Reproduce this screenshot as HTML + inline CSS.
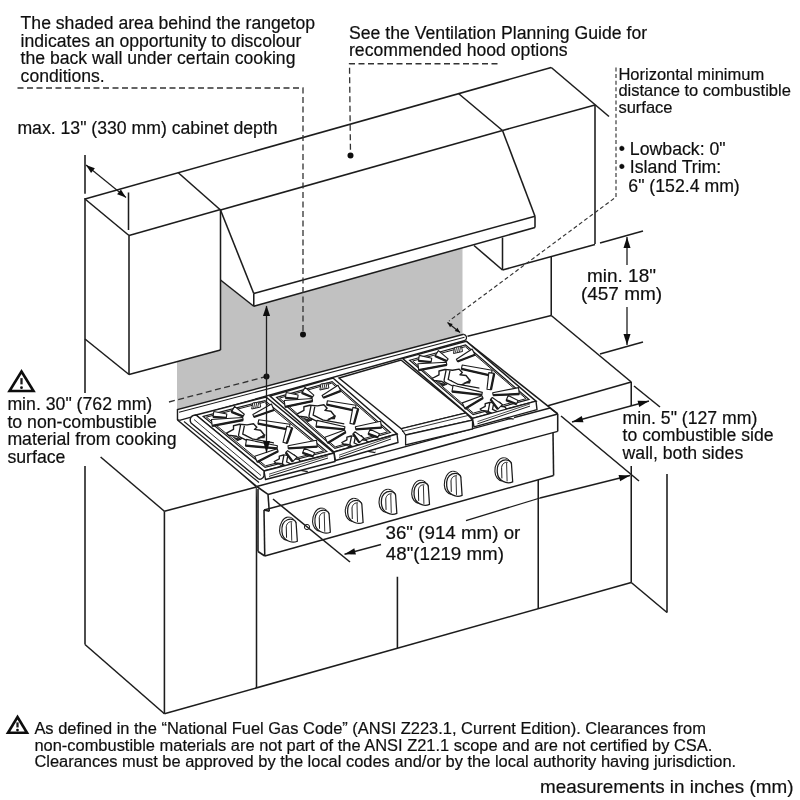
<!DOCTYPE html>
<html><head><meta charset="utf-8"><style>
html,body{margin:0;padding:0;background:#fff;}
svg{display:block;will-change:transform;}
</style></head><body>
<svg width="800" height="800" viewBox="0 0 800 800">
<defs><filter id="soft" x="0" y="0" width="800" height="800" filterUnits="userSpaceOnUse"><feGaussianBlur stdDeviation="0.35"/></filter></defs>
<rect width="800" height="800" fill="#fff"/>
<g filter="url(#soft)">
<g stroke="#1c1c1c" fill="none" stroke-linecap="butt">
<polygon points="177,362 220.5,349.5 220.5,280 253.75,306.25 462.5,248 462.5,336 177,410.5" fill="#c1c1c1" stroke="none"/>
<line x1="85" y1="199" x2="551.25" y2="67.5" stroke-width="1.55" />
<line x1="551.25" y1="67.5" x2="609" y2="116.5" stroke-width="1.55" />
<line x1="85" y1="199" x2="129" y2="235.5" stroke-width="1.55" />
<line x1="129" y1="235.5" x2="220.5" y2="209.5" stroke-width="1.55" />
<line x1="178" y1="172.5" x2="220.5" y2="210" stroke-width="1.55" />
<line x1="85" y1="198" x2="85" y2="393" stroke-width="1.55" />
<line x1="85" y1="339" x2="129" y2="374.5" stroke-width="1.55" />
<line x1="129" y1="235.5" x2="129" y2="374.5" stroke-width="1.55" />
<line x1="129" y1="374.5" x2="220.5" y2="350" stroke-width="1.55" />
<line x1="220.5" y1="210" x2="220.5" y2="350" stroke-width="1.55" />
<line x1="220.5" y1="210" x2="502.5" y2="130.5" stroke-width="1.55" />
<line x1="458.75" y1="93.75" x2="502.5" y2="130.5" stroke-width="1.55" />
<line x1="220.5" y1="210" x2="253.75" y2="293.5" stroke-width="1.55" />
<line x1="502.5" y1="130.5" x2="535" y2="216.25" stroke-width="1.55" />
<line x1="253.75" y1="293.5" x2="535" y2="216.25" stroke-width="1.55" />
<line x1="253.75" y1="306.25" x2="535" y2="227.5" stroke-width="1.55" />
<line x1="253.75" y1="293.5" x2="253.75" y2="306.25" stroke-width="1.55" />
<line x1="535" y1="216.25" x2="535" y2="227.5" stroke-width="1.55" />
<line x1="220.5" y1="280" x2="253.75" y2="306.25" stroke-width="1.55" />
<line x1="502.5" y1="130.5" x2="595" y2="105" stroke-width="1.55" />
<line x1="595" y1="105" x2="595" y2="244" stroke-width="1.55" />
<line x1="502.5" y1="270" x2="595" y2="244.5" stroke-width="1.55" />
<line x1="502.5" y1="237.5" x2="502.5" y2="270" stroke-width="1.55" />
<line x1="474" y1="245.5" x2="502.5" y2="270" stroke-width="1.55" />
<line x1="551.25" y1="256" x2="551.25" y2="315.5" stroke-width="1.55" />
<line x1="467.5" y1="336.25" x2="551.25" y2="315.5" stroke-width="1.55" />
<line x1="551.25" y1="315.5" x2="631.25" y2="382" stroke-width="1.55" />
<line x1="631.25" y1="382" x2="547" y2="406" stroke-width="1.55" />
<line x1="631.25" y1="382" x2="631.25" y2="406" stroke-width="1.55" />
<line x1="631.25" y1="466" x2="631.25" y2="582.5" stroke-width="1.55" />
<line x1="667" y1="474" x2="667" y2="612.5" stroke-width="1.55" />
<line x1="631.25" y1="582.5" x2="667" y2="612.5" stroke-width="1.55" />
<line x1="85" y1="466" x2="85" y2="644.5" stroke-width="1.55" />
<line x1="100.6" y1="457" x2="164.4" y2="511.25" stroke-width="1.55" />
<line x1="85" y1="644.5" x2="164.4" y2="713.75" stroke-width="1.55" />
<line x1="164.4" y1="511.25" x2="164.4" y2="713.75" stroke-width="1.55" />
<line x1="164.4" y1="511.25" x2="256.5" y2="487" stroke-width="1.55" />
<line x1="164.4" y1="713.75" x2="631.25" y2="582.5" stroke-width="1.55" />
<line x1="256.5" y1="487" x2="256.5" y2="688" stroke-width="1.55" />
<line x1="397.4" y1="576.75" x2="397.4" y2="648" stroke-width="1.55" />
<line x1="538.25" y1="479" x2="538.25" y2="609" stroke-width="1.55" />
<line x1="240" y1="472" x2="256.5" y2="487" stroke-width="1.55" />
<polyline points="17.5,88 303,88 303,334.5" fill="none" stroke-width="1.3" stroke-dasharray="6 3.5" stroke="#333"/>
<circle cx="303" cy="334.5" r="3.0" fill="#111" stroke="none"/>
<polyline points="497.5,63.75 349.5,63.75 350.5,155.5" fill="none" stroke-width="1.3" stroke-dasharray="6 3.5" stroke="#333"/>
<circle cx="350.5" cy="155.5" r="3.0" fill="#111" stroke="none"/>
<polyline points="616,67.5 616,197 449,321" fill="none" stroke-width="1.15" stroke-dasharray="4 2.6" stroke="#333"/>
<line x1="85" y1="155" x2="85" y2="193.75" stroke-width="1.55" />
<line x1="128.5" y1="192.5" x2="128.5" y2="230" stroke-width="1.55" />
<line x1="86" y1="165" x2="126" y2="197.5" stroke-width="1.2" />
<polygon points="86,165 94.88,168.35 91.09,173.00" fill="#111" stroke="none"/>
<polygon points="126,197.5 117.12,194.15 120.91,189.50" fill="#111" stroke="none"/>
<line x1="600" y1="243" x2="643" y2="231" stroke-width="1.55" />
<line x1="600" y1="354" x2="643" y2="342" stroke-width="1.55" />
<line x1="627" y1="237" x2="627" y2="265" stroke-width="1.3" />
<line x1="627" y1="307" x2="627" y2="345" stroke-width="1.3" />
<polygon points="627,237 630.50,248.00 623.50,248.00" fill="#111" stroke="none"/>
<polygon points="627,345 623.50,334.00 630.50,334.00" fill="#111" stroke="none"/>
<line x1="447.5" y1="322.5" x2="460" y2="332.5" stroke-width="1.2" />
<polygon points="447.5,322.5 452.78,323.91 450.03,327.34" fill="#111" stroke="none"/>
<polygon points="460,332.5 454.72,331.09 457.47,327.66" fill="#111" stroke="none"/>
<line x1="634" y1="386" x2="660" y2="407" stroke-width="1.55" />
<line x1="561" y1="416" x2="639" y2="481" stroke-width="1.55" />
<line x1="572" y1="422" x2="649" y2="401" stroke-width="1.3" />
<polygon points="572,422 581.77,416.02 583.45,422.19" fill="#111" stroke="none"/>
<polygon points="649,401 639.23,406.98 637.55,400.81" fill="#111" stroke="none"/>
<line x1="540" y1="498" x2="630" y2="475.5" stroke-width="1.3" />
<polygon points="630,475.5 620.10,481.27 618.55,475.06" fill="#111" stroke="none"/>
<line x1="344.5" y1="554.25" x2="381" y2="544.5" stroke-width="1.3" />
<polygon points="344.5,554.25 354.30,548.32 355.95,554.50" fill="#111" stroke="none"/>
<line x1="466" y1="520.6" x2="540" y2="498" stroke-width="1.3" />
<polygon points="177.5,409.6 463.75,334.3 557.7,413.9 557.7,431.4 553,432.7 553.6,475.4 264.75,556 258,551.5 256.75,486.5 177.5,420" fill="#fff" stroke="none"/>
<polyline points="177.5,420 177.5,409.6 463.75,334.3" fill="none" stroke-width="1.4" />
<line x1="179" y1="412.3" x2="464.5" y2="337.2" stroke-width="1.1" />
<line x1="179.5" y1="420.3" x2="465" y2="340.5" stroke-width="1.3" />
<line x1="177.5" y1="420" x2="179.5" y2="420.3" stroke-width="1.55" />
<path d="M463.75,334.3 C466.5,334.8 467.8,338.5 465,340.5" fill="none" stroke-width="1.3"/>
<line x1="177.5" y1="420" x2="256.75" y2="486.5" stroke-width="1.55" />
<line x1="256.75" y1="486.5" x2="550" y2="408" stroke-width="1.3" />
<line x1="256.75" y1="486.5" x2="268" y2="494.4" stroke-width="1.55" />
<line x1="268" y1="494.4" x2="557.7" y2="413.9" stroke-width="1.55" />
<line x1="550" y1="408" x2="557.7" y2="413.9" stroke-width="1.55" />
<line x1="466" y1="341" x2="557.7" y2="413.9" stroke-width="1.55" />
<line x1="557.7" y1="413.9" x2="557.7" y2="431.4" stroke-width="1.55" />
<line x1="268" y1="494.4" x2="269.25" y2="511.25" stroke-width="1.55" />
<line x1="264" y1="510" x2="269.25" y2="511.25" stroke-width="1.55" />
<line x1="258" y1="489" x2="258" y2="551.5" stroke-width="1.55" />
<line x1="258" y1="551.5" x2="264.75" y2="556" stroke-width="1.55" />
<line x1="264" y1="510" x2="264.75" y2="556" stroke-width="1.55" />
<line x1="264" y1="510" x2="557.7" y2="431.4" stroke-width="1.3" />
<line x1="264.75" y1="556" x2="553.6" y2="475.4" stroke-width="1.55" />
<line x1="553" y1="432.7" x2="553.6" y2="475.4" stroke-width="1.55" />
<polygon points="196,415 266,397 334,453 264,471" fill="#fff" stroke-width="1.5" />
<polygon points="203.26,416.44 264.86,400.59999999999997 326.74,451.56 265.14,467.40000000000003" fill="none" stroke-width="1.2" />
<polygon points="206.36999999999998,417.11 264.47,402.16999999999996 323.63,450.89 265.53,465.83000000000004" fill="none" stroke-width="1.0" />
<polygon points="226.5,433.2 233.5,429.4 233.5,425.7 239.5,424.2 247.0,424.9 253.5,423.8 256.8,427.2 254.5,429.4 260.5,430.2 264.5,435.2 257.5,439.2 251.5,440.7 245.5,435.4 240.5,439.2 236.5,436.2 228.5,435.2" fill="#fff" stroke-width="1.4" stroke-linejoin="round"/>
<polyline points="242.5,425.2 240.5,435.2 251.5,440.7 273.5,444.7" fill="none" stroke-width="5.2" stroke-linejoin="round"/>
<polyline points="242.5,425.2 240.5,435.2 251.5,440.7 273.5,444.7" fill="none" stroke="#fff" stroke-width="2.6" stroke-linejoin="round"/>
<path d="M231.5,436.2 l6.0,5.0 l4.0,-2.0 z M256.5,438.2 l8.0,0.0 l1.0,-4.0 z" fill="#222" stroke="none"/>
<polygon points="274.3,461.5 279.3,458.8 279.3,456.1 283.6,455.0 289.0,455.6 293.7,454.8 296.1,457.2 294.4,458.8 298.8,459.4 301.6,463.0 296.6,465.8 292.3,466.9 288.0,463.1 284.4,465.8 281.5,463.7 275.7,463.0" fill="#fff" stroke-width="1.4" stroke-linejoin="round"/>
<polyline points="285.8,455.8 284.4,463.0 292.3,466.9 308.1,469.8" fill="none" stroke-width="5.2" stroke-linejoin="round"/>
<polyline points="285.8,455.8 284.4,463.0 292.3,466.9 308.1,469.8" fill="none" stroke="#fff" stroke-width="2.6" stroke-linejoin="round"/>
<path d="M277.9,463.7 l4.3,3.6 l2.9,-1.4 z M295.9,465.1 l5.8,0.0 l0.7,-2.9 z" fill="#222" stroke="none"/>
<polygon points="213.0,416.9 226.3,417.9 226.8,414.0 213.8,411.5" fill="#fff" stroke-width="1.15" stroke-linejoin="round"/>
<line x1="213.0" y1="416.9" x2="226.3" y2="417.9" stroke-width="2.3"/>
<polygon points="231.4,411.9 243.0,416.4 244.3,414.2 234.6,406.4" fill="#fff" stroke-width="1.15" stroke-linejoin="round"/>
<line x1="231.4" y1="411.9" x2="243.0" y2="416.4" stroke-width="2.3"/>
<polygon points="271.4,404.1 252.9,414.6 253.9,417.0 274.0,410.0" fill="#fff" stroke-width="1.15" stroke-linejoin="round"/>
<line x1="274.0" y1="410.0" x2="253.9" y2="417.0" stroke-width="2.3"/>
<polygon points="212.2,425.9 243.1,420.0 242.8,417.5 211.4,419.5" fill="#fff" stroke-width="1.15" stroke-linejoin="round"/>
<line x1="212.2" y1="425.9" x2="243.1" y2="420.0" stroke-width="2.3"/>
<polygon points="316.5,440.3 288.0,445.8 288.3,448.4 317.3,446.6" fill="#fff" stroke-width="1.15" stroke-linejoin="round"/>
<line x1="317.3" y1="446.6" x2="288.3" y2="448.4" stroke-width="2.3"/>
<polygon points="257.2,462.0 278.1,451.2 277.1,448.8 254.7,456.2" fill="#fff" stroke-width="1.15" stroke-linejoin="round"/>
<line x1="257.2" y1="462.0" x2="278.1" y2="451.2" stroke-width="2.3"/>
<polygon points="297.1,457.1 287.6,450.7 285.8,452.5 292.7,461.7" fill="#fff" stroke-width="1.15" stroke-linejoin="round"/>
<line x1="292.7" y1="461.7" x2="285.8" y2="452.5" stroke-width="2.3"/>
<polygon points="245.5,445.7 277.1,448.3 277.4,445.8 246.5,439.4" fill="#fff" stroke-width="1.15" stroke-linejoin="round"/>
<line x1="245.5" y1="445.7" x2="277.1" y2="448.3" stroke-width="2.3"/>
<polygon points="302.6,452.9 313.1,456.4 314.5,452.7 304.4,448.2" fill="#fff" stroke-width="1.15" stroke-linejoin="round"/>
<line x1="302.6" y1="452.9" x2="313.1" y2="456.4" stroke-width="2.3"/>
<polygon points="258.0,423.7 289.1,429.7 290.0,424.2 258.7,419.8" fill="#fff" stroke-width="1.15" stroke-linejoin="round"/>
<line x1="258.0" y1="423.7" x2="289.1" y2="429.7" stroke-width="2.3"/>
<polygon points="286.8,443.4 292.2,427.7 286.9,426.2 283.0,442.3" fill="#fff" stroke-width="1.15" stroke-linejoin="round"/>
<line x1="286.8" y1="443.4" x2="292.2" y2="427.7" stroke-width="2.3"/>
<polygon points="251.7,409.0 260.7,407.0 259.7,402.0 252.7,403.0" fill="#fff" stroke-width="1.0"/>
<path d="M253.7,408.0 l1,-5 M255.7,408.0 l1,-5 M257.7,407.5 l1,-5" stroke-width="0.9"/>
<path d="M264.0,471.0 L334.0,453.0 L335.0,461.5 L265.5,479.5 Z" fill="#fff" stroke-width="1.4" stroke-linejoin="round"/>
<line x1="269.0" y1="474.2" x2="328.0" y2="455.8" stroke-width="0.8"/>
<line x1="269.0" y1="476.4" x2="328.0" y2="458.0" stroke-width="1.0"/>
<path d="M196,415 C191,415 189,419 191,423 L258,478.5 C260,480 263,479 264,476 L264,471 Z" fill="#fff" stroke-width="1.4" stroke-linejoin="round"/>
<line x1="194" y1="419.5" x2="261" y2="475.5" stroke-width="0.9" />
<line x1="184" y1="421.5" x2="259" y2="482.5" stroke-width="1.1" />
<polygon points="270,396 333,378 397,434 334,452" fill="#fff" stroke-width="1.5" />
<polygon points="276.65999999999997,397.44 332.1,381.59999999999997 390.34000000000003,432.56 334.9,448.40000000000003" fill="none" stroke-width="1.2" />
<polygon points="279.51500000000004,398.11 331.805,383.16999999999996 387.485,431.89 335.19500000000005,446.83000000000004" fill="none" stroke-width="1.0" />
<polygon points="296.9,414.2 303.9,410.4 303.9,406.7 309.9,405.2 317.4,405.9 323.9,404.8 327.1,408.2 324.9,410.4 330.9,411.2 334.9,416.2 327.9,420.2 321.9,421.7 315.9,416.4 310.9,420.2 306.9,417.2 298.9,416.2" fill="#fff" stroke-width="1.4" stroke-linejoin="round"/>
<polyline points="312.9,406.2 310.9,416.2 321.9,421.7 343.9,425.7" fill="none" stroke-width="5.2" stroke-linejoin="round"/>
<polyline points="312.9,406.2 310.9,416.2 321.9,421.7 343.9,425.7" fill="none" stroke="#fff" stroke-width="2.6" stroke-linejoin="round"/>
<path d="M301.9,417.2 l6.0,5.0 l4.0,-2.0 z M326.9,419.2 l8.0,0.0 l1.0,-4.0 z" fill="#222" stroke="none"/>
<polygon points="341.9,442.5 346.9,439.8 346.9,437.1 351.2,436.0 356.6,436.6 361.3,435.8 363.6,438.2 362.0,439.8 366.3,440.4 369.2,444.0 364.2,446.8 359.9,447.9 355.5,444.1 351.9,446.8 349.1,444.7 343.3,444.0" fill="#fff" stroke-width="1.4" stroke-linejoin="round"/>
<polyline points="353.4,436.8 351.9,444.0 359.9,447.9 375.7,450.8" fill="none" stroke-width="5.2" stroke-linejoin="round"/>
<polyline points="353.4,436.8 351.9,444.0 359.9,447.9 375.7,450.8" fill="none" stroke="#fff" stroke-width="2.6" stroke-linejoin="round"/>
<path d="M345.5,444.7 l4.3,3.6 l2.9,-1.4 z M363.5,446.1 l5.8,0.0 l0.7,-2.9 z" fill="#222" stroke="none"/>
<polygon points="285.4,397.9 297.6,398.9 298.1,395.0 286.2,392.5" fill="#fff" stroke-width="1.15" stroke-linejoin="round"/>
<line x1="285.4" y1="397.9" x2="297.6" y2="398.9" stroke-width="2.3"/>
<polygon points="301.8,392.9 312.4,397.3 313.8,395.1 305.1,387.4" fill="#fff" stroke-width="1.15" stroke-linejoin="round"/>
<line x1="301.8" y1="392.9" x2="312.4" y2="397.3" stroke-width="2.3"/>
<polygon points="338.0,385.2 322.1,395.4 323.3,397.7 340.9,390.9" fill="#fff" stroke-width="1.15" stroke-linejoin="round"/>
<line x1="340.9" y1="390.9" x2="323.3" y2="397.7" stroke-width="2.3"/>
<polygon points="285.1,406.9 312.5,401.1 312.2,398.5 284.2,400.5" fill="#fff" stroke-width="1.15" stroke-linejoin="round"/>
<line x1="285.1" y1="406.9" x2="312.5" y2="401.1" stroke-width="2.3"/>
<polygon points="380.6,421.3 355.4,426.8 355.8,429.3 381.5,427.6" fill="#fff" stroke-width="1.15" stroke-linejoin="round"/>
<line x1="381.5" y1="427.6" x2="355.8" y2="429.3" stroke-width="2.3"/>
<polygon points="327.6,443.0 345.7,432.3 344.6,430.0 324.9,437.2" fill="#fff" stroke-width="1.15" stroke-linejoin="round"/>
<line x1="327.6" y1="443.0" x2="345.7" y2="432.3" stroke-width="2.3"/>
<polygon points="363.9,438.1 354.9,431.8 353.1,433.6 359.4,442.6" fill="#fff" stroke-width="1.15" stroke-linejoin="round"/>
<line x1="359.4" y1="442.6" x2="353.1" y2="433.6" stroke-width="2.3"/>
<polygon points="316.0,426.7 344.5,429.3 344.9,426.7 317.0,420.4" fill="#fff" stroke-width="1.15" stroke-linejoin="round"/>
<line x1="316.0" y1="426.7" x2="344.5" y2="429.3" stroke-width="2.3"/>
<polygon points="368.2,433.9 377.9,437.4 379.4,433.7 370.1,429.3" fill="#fff" stroke-width="1.15" stroke-linejoin="round"/>
<line x1="368.2" y1="433.9" x2="377.9" y2="437.4" stroke-width="2.3"/>
<polygon points="326.7,404.7 355.0,410.7 356.0,405.3 327.4,400.8" fill="#fff" stroke-width="1.15" stroke-linejoin="round"/>
<line x1="326.7" y1="404.7" x2="355.0" y2="410.7" stroke-width="2.3"/>
<polygon points="353.9,424.3 358.2,408.6 352.9,407.4 350.0,423.4" fill="#fff" stroke-width="1.15" stroke-linejoin="round"/>
<line x1="353.9" y1="424.3" x2="358.2" y2="408.6" stroke-width="2.3"/>
<polygon points="319.9,390.0 328.9,388.0 327.9,383.0 320.9,384.0" fill="#fff" stroke-width="1.0"/>
<path d="M321.9,389.0 l1,-5 M323.9,389.0 l1,-5 M325.9,388.5 l1,-5" stroke-width="0.9"/>
<path d="M334.0,452.0 L397.0,434.0 L398.0,442.5 L335.5,460.5 Z" fill="#fff" stroke-width="1.4" stroke-linejoin="round"/>
<line x1="339.0" y1="455.2" x2="391.0" y2="436.8" stroke-width="0.8"/>
<line x1="339.0" y1="457.4" x2="391.0" y2="439.0" stroke-width="1.0"/>
<polygon points="339,378 401,360 466,413 401.25,428.75" fill="#fff" stroke-width="1.4" />
<polygon points="401.25,428.75 466,413 472.5,420 405.6,435" fill="#fff" stroke-width="1.2" />
<line x1="402" y1="431.5" x2="468" y2="415.5" stroke-width="0.9" />
<polygon points="405.6,435 472.5,420 472.5,429 405.6,445" fill="#fff" stroke-width="1.3" />
<polygon points="402.7,358.6 466.2,341.3 536.0,401.09999999999997 472.5,418.4" fill="#fff" stroke-width="1.5" />
<polygon points="409.651,360.253 465.531,345.029 529.049,399.447 473.169,414.67099999999994" fill="none" stroke-width="1.2" />
<polygon points="412.63449999999995,361.0165 465.3395,346.6575 526.0655,398.6835 473.3605,413.04249999999996" fill="none" stroke-width="1.0" />
<polygon points="432.0,378.5 439.0,374.8 439.0,371.0 445.0,369.5 452.5,370.3 459.0,369.1 462.3,372.5 460.0,374.8 466.0,375.5 470.0,380.5 463.0,384.5 457.0,386.0 451.0,380.8 446.0,384.5 442.0,381.5 434.0,380.5" fill="#fff" stroke-width="1.4" stroke-linejoin="round"/>
<polyline points="448.0,370.5 446.0,380.5 457.0,386.0 479.0,390.0" fill="none" stroke-width="5.2" stroke-linejoin="round"/>
<polyline points="448.0,370.5 446.0,380.5 457.0,386.0 479.0,390.0" fill="none" stroke="#fff" stroke-width="2.6" stroke-linejoin="round"/>
<path d="M437.0,381.5 l6.0,5.0 l4.0,-2.0 z M462.0,383.5 l8.0,0.0 l1.0,-4.0 z" fill="#222" stroke="none"/>
<polygon points="480.2,409.0 485.2,406.3 485.2,403.6 489.6,402.5 495.0,403.0 499.6,402.2 502.0,404.6 500.4,406.3 504.7,406.8 507.6,410.4 502.5,413.3 498.2,414.4 493.9,410.6 490.3,413.3 487.4,411.1 481.6,410.4" fill="#fff" stroke-width="1.4" stroke-linejoin="round"/>
<polyline points="491.7,403.2 490.3,410.4 498.2,414.4 514.0,417.2" fill="none" stroke-width="5.2" stroke-linejoin="round"/>
<polyline points="491.7,403.2 490.3,410.4 498.2,414.4 514.0,417.2" fill="none" stroke="#fff" stroke-width="2.6" stroke-linejoin="round"/>
<path d="M483.8,411.1 l4.3,3.6 l2.9,-1.4 z M501.8,412.6 l5.8,0.0 l0.7,-2.9 z" fill="#222" stroke="none"/>
<polygon points="418.4,360.8 431.1,362.2 431.7,358.3 419.3,355.4" fill="#fff" stroke-width="1.15" stroke-linejoin="round"/>
<line x1="418.4" y1="360.8" x2="431.1" y2="362.2" stroke-width="2.3"/>
<polygon points="435.0,356.0 446.7,361.1 448.1,358.9 438.4,350.6" fill="#fff" stroke-width="1.15" stroke-linejoin="round"/>
<line x1="435.0" y1="356.0" x2="446.7" y2="361.1" stroke-width="2.3"/>
<polygon points="472.1,349.1 456.4,359.2 457.5,361.5 475.0,354.8" fill="#fff" stroke-width="1.15" stroke-linejoin="round"/>
<line x1="475.0" y1="354.8" x2="457.5" y2="361.5" stroke-width="2.3"/>
<polygon points="418.7,370.1 446.8,364.8 446.4,362.3 417.9,363.8" fill="#fff" stroke-width="1.15" stroke-linejoin="round"/>
<line x1="418.7" y1="370.1" x2="446.8" y2="364.8" stroke-width="2.3"/>
<polygon points="518.5,387.6 492.7,392.7 493.1,395.2 519.3,394.0" fill="#fff" stroke-width="1.15" stroke-linejoin="round"/>
<line x1="519.3" y1="394.0" x2="493.1" y2="395.2" stroke-width="2.3"/>
<polygon points="465.0,408.7 483.0,398.1 481.9,395.8 462.3,402.9" fill="#fff" stroke-width="1.15" stroke-linejoin="round"/>
<line x1="465.0" y1="408.7" x2="483.0" y2="398.1" stroke-width="2.3"/>
<polygon points="502.4,404.6 492.3,397.5 490.5,399.4 497.9,409.2" fill="#fff" stroke-width="1.15" stroke-linejoin="round"/>
<line x1="497.9" y1="409.2" x2="490.5" y2="399.4" stroke-width="2.3"/>
<polygon points="452.0,391.5 481.8,394.9 482.3,392.4 453.1,385.2" fill="#fff" stroke-width="1.15" stroke-linejoin="round"/>
<line x1="452.0" y1="391.5" x2="481.8" y2="394.9" stroke-width="2.3"/>
<polygon points="506.2,400.2 516.5,404.1 518.1,400.4 508.2,395.6" fill="#fff" stroke-width="1.15" stroke-linejoin="round"/>
<line x1="506.2" y1="400.2" x2="516.5" y2="404.1" stroke-width="2.3"/>
<polygon points="461.4,368.9 491.0,375.7 492.1,370.3 462.2,365.0" fill="#fff" stroke-width="1.15" stroke-linejoin="round"/>
<line x1="461.4" y1="368.9" x2="491.0" y2="375.7" stroke-width="2.3"/>
<polygon points="490.9,389.8 494.2,373.4 488.8,372.6 487.0,389.2" fill="#fff" stroke-width="1.15" stroke-linejoin="round"/>
<line x1="490.9" y1="389.8" x2="494.2" y2="373.4" stroke-width="2.3"/>
<polygon points="453.5,353.5 462.5,351.5 461.5,346.5 454.5,347.5" fill="#fff" stroke-width="1.0"/>
<path d="M455.5,352.5 l1,-5 M457.5,352.5 l1,-5 M459.5,352.0 l1,-5" stroke-width="0.9"/>
<path d="M472.5,418.4 L536.0,401.1 L537.0,409.6 L474.0,426.9 Z" fill="#fff" stroke-width="1.4" stroke-linejoin="round"/>
<line x1="477.5" y1="421.6" x2="530.0" y2="403.9" stroke-width="0.8"/>
<line x1="477.5" y1="423.8" x2="530.0" y2="406.1" stroke-width="1.0"/>
<g transform="translate(288.75,529.75)"><path d="M-1,-12.6 C-6,-12 -9.5,-5 -9.2,1 C-9,6 -6,10 -2,10.5" fill="none" stroke-width="1.1"/><path d="M-1,-12.6 C3,-13 6,-10 7.2,-7" fill="none" stroke-width="1.0"/><path d="M-6,-5.5 C-4,-10 1,-11.5 4.5,-10 C6.5,-9 7.5,-7.5 7.4,-6 L8.6,11.5 C6,12.6 2,12.6 -1,11 C-4,9.5 -6.5,6 -6.8,2 C-7,-1 -6.8,-3.5 -6,-5.5 Z" fill="#fff" stroke-width="1.25"/><path d="M-2.5,-3 C-2,-7 1,-8.5 3.5,-8" fill="none" stroke-width="1.0"/><line x1="-2.5" y1="-3" x2="-2.2" y2="8" stroke-width="1.0"/><line x1="2.5" y1="-7.5" x2="3" y2="11" stroke-width="0.9"/></g>
<g transform="translate(321.75,520.75)"><path d="M-1,-12.6 C-6,-12 -9.5,-5 -9.2,1 C-9,6 -6,10 -2,10.5" fill="none" stroke-width="1.1"/><path d="M-1,-12.6 C3,-13 6,-10 7.2,-7" fill="none" stroke-width="1.0"/><path d="M-6,-5.5 C-4,-10 1,-11.5 4.5,-10 C6.5,-9 7.5,-7.5 7.4,-6 L8.6,11.5 C6,12.6 2,12.6 -1,11 C-4,9.5 -6.5,6 -6.8,2 C-7,-1 -6.8,-3.5 -6,-5.5 Z" fill="#fff" stroke-width="1.25"/><path d="M-2.5,-3 C-2,-7 1,-8.5 3.5,-8" fill="none" stroke-width="1.0"/><line x1="-2.5" y1="-3" x2="-2.2" y2="8" stroke-width="1.0"/><line x1="2.5" y1="-7.5" x2="3" y2="11" stroke-width="0.9"/></g>
<g transform="translate(354.5,511)"><path d="M-1,-12.6 C-6,-12 -9.5,-5 -9.2,1 C-9,6 -6,10 -2,10.5" fill="none" stroke-width="1.1"/><path d="M-1,-12.6 C3,-13 6,-10 7.2,-7" fill="none" stroke-width="1.0"/><path d="M-6,-5.5 C-4,-10 1,-11.5 4.5,-10 C6.5,-9 7.5,-7.5 7.4,-6 L8.6,11.5 C6,12.6 2,12.6 -1,11 C-4,9.5 -6.5,6 -6.8,2 C-7,-1 -6.8,-3.5 -6,-5.5 Z" fill="#fff" stroke-width="1.25"/><path d="M-2.5,-3 C-2,-7 1,-8.5 3.5,-8" fill="none" stroke-width="1.0"/><line x1="-2.5" y1="-3" x2="-2.2" y2="8" stroke-width="1.0"/><line x1="2.5" y1="-7.5" x2="3" y2="11" stroke-width="0.9"/></g>
<g transform="translate(388.25,501.9)"><path d="M-1,-12.6 C-6,-12 -9.5,-5 -9.2,1 C-9,6 -6,10 -2,10.5" fill="none" stroke-width="1.1"/><path d="M-1,-12.6 C3,-13 6,-10 7.2,-7" fill="none" stroke-width="1.0"/><path d="M-6,-5.5 C-4,-10 1,-11.5 4.5,-10 C6.5,-9 7.5,-7.5 7.4,-6 L8.6,11.5 C6,12.6 2,12.6 -1,11 C-4,9.5 -6.5,6 -6.8,2 C-7,-1 -6.8,-3.5 -6,-5.5 Z" fill="#fff" stroke-width="1.25"/><path d="M-2.5,-3 C-2,-7 1,-8.5 3.5,-8" fill="none" stroke-width="1.0"/><line x1="-2.5" y1="-3" x2="-2.2" y2="8" stroke-width="1.0"/><line x1="2.5" y1="-7.5" x2="3" y2="11" stroke-width="0.9"/></g>
<g transform="translate(420.9,492.9)"><path d="M-1,-12.6 C-6,-12 -9.5,-5 -9.2,1 C-9,6 -6,10 -2,10.5" fill="none" stroke-width="1.1"/><path d="M-1,-12.6 C3,-13 6,-10 7.2,-7" fill="none" stroke-width="1.0"/><path d="M-6,-5.5 C-4,-10 1,-11.5 4.5,-10 C6.5,-9 7.5,-7.5 7.4,-6 L8.6,11.5 C6,12.6 2,12.6 -1,11 C-4,9.5 -6.5,6 -6.8,2 C-7,-1 -6.8,-3.5 -6,-5.5 Z" fill="#fff" stroke-width="1.25"/><path d="M-2.5,-3 C-2,-7 1,-8.5 3.5,-8" fill="none" stroke-width="1.0"/><line x1="-2.5" y1="-3" x2="-2.2" y2="8" stroke-width="1.0"/><line x1="2.5" y1="-7.5" x2="3" y2="11" stroke-width="0.9"/></g>
<g transform="translate(453.5,483.9)"><path d="M-1,-12.6 C-6,-12 -9.5,-5 -9.2,1 C-9,6 -6,10 -2,10.5" fill="none" stroke-width="1.1"/><path d="M-1,-12.6 C3,-13 6,-10 7.2,-7" fill="none" stroke-width="1.0"/><path d="M-6,-5.5 C-4,-10 1,-11.5 4.5,-10 C6.5,-9 7.5,-7.5 7.4,-6 L8.6,11.5 C6,12.6 2,12.6 -1,11 C-4,9.5 -6.5,6 -6.8,2 C-7,-1 -6.8,-3.5 -6,-5.5 Z" fill="#fff" stroke-width="1.25"/><path d="M-2.5,-3 C-2,-7 1,-8.5 3.5,-8" fill="none" stroke-width="1.0"/><line x1="-2.5" y1="-3" x2="-2.2" y2="8" stroke-width="1.0"/><line x1="2.5" y1="-7.5" x2="3" y2="11" stroke-width="0.9"/></g>
<g transform="translate(504.1,470.4)"><path d="M-1,-12.6 C-6,-12 -9.5,-5 -9.2,1 C-9,6 -6,10 -2,10.5" fill="none" stroke-width="1.1"/><path d="M-1,-12.6 C3,-13 6,-10 7.2,-7" fill="none" stroke-width="1.0"/><path d="M-6,-5.5 C-4,-10 1,-11.5 4.5,-10 C6.5,-9 7.5,-7.5 7.4,-6 L8.6,11.5 C6,12.6 2,12.6 -1,11 C-4,9.5 -6.5,6 -6.8,2 C-7,-1 -6.8,-3.5 -6,-5.5 Z" fill="#fff" stroke-width="1.25"/><path d="M-2.5,-3 C-2,-7 1,-8.5 3.5,-8" fill="none" stroke-width="1.0"/><line x1="-2.5" y1="-3" x2="-2.2" y2="8" stroke-width="1.0"/><line x1="2.5" y1="-7.5" x2="3" y2="11" stroke-width="0.9"/></g>
<circle cx="307" cy="527" r="2.6" fill="none" stroke-width="1"/>
<polyline points="169,402 266.5,376.5" fill="none" stroke-width="1.3" stroke-dasharray="6 3.5" stroke="#333"/>
<circle cx="266.5" cy="376.5" r="3.0" fill="#111" stroke="none"/>
<line x1="266.5" y1="306" x2="266.5" y2="453" stroke-width="1.3" />
<polygon points="266.5,305.5 270.10,316.00 262.90,316.00" fill="#111" stroke="none"/>
<polygon points="266.5,453 263.00,441.00 270.00,441.00" fill="#111" stroke="none"/>
<line x1="273" y1="499" x2="350" y2="562" stroke-width="1.55" />
<polygon points="21.5,371.5 33.5,391 9.5,391" fill="none" stroke="#111" stroke-width="2.6" stroke-linejoin="miter"/>
<line x1="21.5" y1="378.13" x2="21.5" y2="384.37" stroke-width="2.3"/>
<circle cx="21.5" cy="387.685" r="1.4" fill="#111" stroke="none"/>
<polygon points="17.5,717 27,732.8 8,732.8" fill="none" stroke="#111" stroke-width="2.6" stroke-linejoin="miter"/>
<line x1="17.5" y1="722.372" x2="17.5" y2="727.428" stroke-width="2.3"/>
<circle cx="17.5" cy="730.1139999999999" r="1.4" fill="#111" stroke="none"/>
</g>
<g fill="#111" stroke="#111" stroke-width="0.2" font-family="Liberation Sans, sans-serif">
<text x="20.6" y="29.4" font-size="17.6" >The shaded area behind the rangetop</text>
<text x="20.6" y="46.9" font-size="17.6" >indicates an opportunity to discolour</text>
<text x="20.6" y="64.4" font-size="17.6" >the back wall under certain cooking</text>
<text x="20.6" y="81.9" font-size="17.6" >conditions.</text>
<text x="349" y="38.5" font-size="17.65" >See the Ventilation Planning Guide for</text>
<text x="349" y="56" font-size="17.65" >recommended hood options</text>
<text x="17.4" y="133.5" font-size="17.65" >max. 13" (330 mm) cabinet depth</text>
<text x="618.4" y="80" font-size="16.5" >Horizontal minimum</text>
<text x="618.4" y="96.3" font-size="16.5" >distance to combustible</text>
<text x="618.4" y="112.6" font-size="16.5" >surface</text>
<text x="618.75" y="154.8" font-size="17.7" >• Lowback: 0"</text>
<text x="618.75" y="173.15" font-size="17.7" >• Island Trim:</text>
<text x="628.3" y="191.9" font-size="17.7" >6" (152.4 mm)</text>
<text x="586.9" y="282" font-size="19" >min. 18"</text>
<text x="580.9" y="300" font-size="19" >(457 mm)</text>
<text x="7.4" y="410.3" font-size="17.7" >min. 30" (762 mm)</text>
<text x="7.4" y="428" font-size="17.7" >to non-combustible</text>
<text x="7.4" y="445.3" font-size="17.7" >material from cooking</text>
<text x="7.4" y="463.2" font-size="17.7" >surface</text>
<text x="622.6" y="423.75" font-size="17.65" >min. 5" (127 mm)</text>
<text x="622.6" y="441.25" font-size="17.65" >to combustible side</text>
<text x="622.6" y="458.75" font-size="17.65" >wall, both sides</text>
<text x="385.5" y="538.75" font-size="18.75" >36" (914 mm) or</text>
<text x="385.8" y="560" font-size="18.75" >48"(1219 mm)</text>
<text x="34.4" y="734.4" font-size="16.44" >As defined in the “National Fuel Gas Code” (ANSI Z223.1, Current Edition). Clearances from</text>
<text x="34.4" y="750.9" font-size="16.44" >non-combustible materials are not part of the ANSI Z21.1 scope and are not certified by CSA.</text>
<text x="34.4" y="767.4" font-size="16.44" >Clearances must be approved by the local codes and/or by the local authority having jurisdiction.</text>
<text x="540" y="792.5" font-size="18.85" >measurements in inches (mm)</text>
</g>
</g>
</svg>
</body></html>
